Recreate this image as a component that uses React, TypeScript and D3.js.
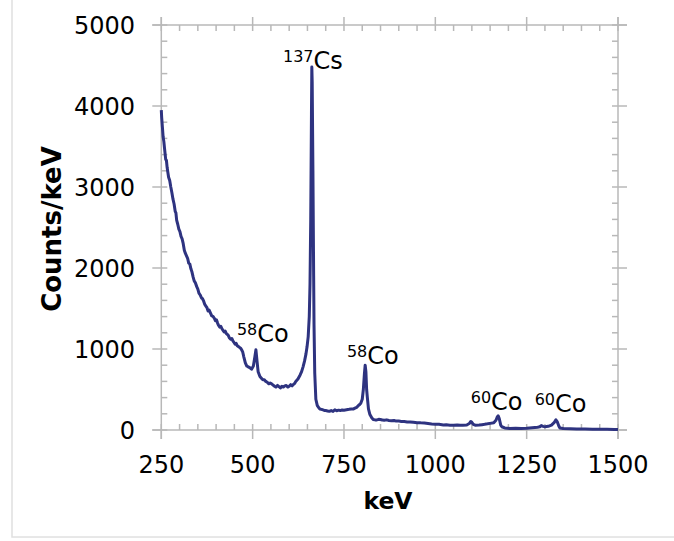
import React from 'react';
import * as d3 from 'd3';

// spectrum (keV, counts/keV)
const energy = [
  250, 251, 253, 255, 257, 259, 262, 264, 266, 268, 270, 273, 276, 279, 282, 285, 288, 290, 292, 295,
  298, 301, 304, 307, 310, 313, 316, 319, 322, 325, 328, 331, 334, 337, 340, 343, 347, 350, 353, 356,
  360, 363, 366, 369, 372, 375, 378, 381, 385, 388, 392, 395, 398, 401, 404, 407, 410, 413, 416, 419,
  422, 425, 428, 431, 433, 436, 440, 443, 446, 449, 452, 455, 458, 461, 464, 467, 470, 473, 476, 480,
  484, 488, 492, 497, 502, 506, 509, 512, 515, 520, 524, 528, 532, 536, 540, 544, 548, 552, 556, 560,
  564, 568, 572, 576, 580, 584, 588, 592, 596, 600, 604, 608, 611, 615, 618, 624, 630, 634, 638, 642,
  646, 649, 652, 655, 657, 659, 661, 662, 663, 665, 667, 668, 670, 673, 677, 681, 684, 688, 692, 696,
  700, 705, 710, 715, 720, 725, 730, 735, 740, 745, 750, 757, 764, 770, 775, 780, 785, 789, 793, 796,
  800, 803, 806, 808, 810, 812, 814, 817, 821, 826, 830, 835, 840, 845, 850, 855, 860, 867, 873, 880,
  887, 893, 900, 907, 915, 923, 931, 940, 950, 960, 970, 980, 990, 1000, 1010, 1022, 1030, 1040, 1050, 1060,
  1068, 1075, 1086, 1093, 1097, 1100, 1104, 1109, 1120, 1128, 1135, 1143, 1150, 1160, 1166, 1170, 1172, 1175, 1179, 1182,
  1190, 1204, 1220, 1235, 1250, 1265, 1280, 1286, 1290, 1295, 1300, 1309, 1318, 1325, 1330, 1334, 1338, 1341, 1350, 1370,
  1387, 1410, 1430, 1450, 1470, 1490, 1500,
];
const counts = [
  3950, 3860, 3740, 3620, 3560, 3470, 3340, 3330, 3240, 3180, 3120, 3080, 3000, 2930, 2850, 2790, 2700, 2680, 2590, 2540,
  2480, 2450, 2390, 2360, 2300, 2220, 2180, 2150, 2120, 2060, 2050, 1990, 1950, 1890, 1840, 1820, 1770, 1740, 1690, 1670,
  1630, 1620, 1590, 1550, 1530, 1510, 1470, 1480, 1440, 1410, 1400, 1380, 1350, 1360, 1320, 1290, 1270, 1280, 1250, 1230,
  1210, 1220, 1190, 1180, 1170, 1140, 1120, 1130, 1100, 1080, 1060, 1070, 1040, 1030, 1020, 1010, 990, 960, 900, 830,
  790, 780, 770, 750, 790, 900, 990, 850, 720, 660, 640, 620, 620, 600, 590, 570, 580, 570, 555, 540,
  530, 550, 535, 520, 540, 530, 545, 550, 530, 540, 560, 545, 560, 575, 600, 630, 680, 720, 780, 850,
  940, 1030, 1150, 1400, 1800, 2600, 3900, 4480, 4300, 3200, 1900, 1300, 700, 380, 300, 275, 260, 255, 250, 242,
  240, 235, 230, 240, 230, 250, 238, 245, 240, 248, 245, 250, 255, 260, 258, 270, 280, 300, 315, 330,
  380, 500, 700, 800, 720, 500, 400, 260, 190, 150, 130, 125, 125, 132, 130, 122, 120, 125, 118, 115,
  118, 110, 110, 106, 105, 100, 100, 95, 90, 88, 85, 80, 75, 72, 70, 62, 64, 60, 58, 62,
  60, 58, 62, 80, 105, 95, 70, 60, 62, 66, 70, 76, 82, 90, 120, 165, 175, 140, 60, 40,
  25, 20, 22, 20, 22, 28, 35, 40, 55, 45, 40, 45, 60, 90, 125, 100, 50, 25, 18, 15,
  12, 12, 10, 8, 8, 6, 5,
];

const xTicks = [250, 500, 750, 1000, 1250, 1500];
const yTicks = [0, 1000, 2000, 3000, 4000, 5000];

// peak labels: isotope mass, element, label anchor (keV, counts)
const labelMass = ['137', '58', '58', '60', '60'];
const labelElem = ['Cs', 'Co', 'Co', 'Co', 'Co'];
const labelKeV = [583, 457, 758, 1097, 1272];
const labelCount = [4457, 1086, 815, 247, 222];

export default function App() {
  const left = 161.3, right = 618, top = 25, bottom = 430;
  const x = d3.scaleLinear().domain([250, 1500]).range([left, right]);
  const y = d3.scaleLinear().domain([0, 5000]).range([bottom, top]);

  const pts = energy.map((e, i) => [e, counts[i]] as [number, number]);
  const line = d3.line<[number, number]>().x(d => x(d[0])).y(d => y(d[1]));

  const xMinor = d3.range(250, 1501, 50).filter(v => !xTicks.includes(v));
  const yMinor = d3.range(0, 5001, 200).filter(v => !yTicks.includes(v));
  const axisCol = '#b8b8b8';
  const font = '"DejaVu Sans", Verdana, sans-serif';

  return (
    <svg width={674} height={541} style={{ position: 'absolute', left: 0, top: 0 }} fontFamily={font}>
      <rect x={12} y={-2} width={700} height={539} fill="white" stroke="#e0e0e0" strokeWidth={1.5} />

      <g stroke={axisCol} strokeWidth={1.5}>
        <line x1={left - 9} x2={right + 9} y1={bottom} y2={bottom} />
        <line x1={left - 9} x2={right + 9} y1={top} y2={top} />
        <line x1={left} x2={left} y1={top - 8} y2={bottom + 9} />
        <line x1={right} x2={right} y1={top - 8} y2={bottom + 9} />
        {xTicks.map(t => (
          <g key={'xt' + t}>
            <line x1={x(t)} x2={x(t)} y1={bottom - 6} y2={bottom + 9} />
            <line x1={x(t)} x2={x(t)} y1={top - 8} y2={top + 6} />
          </g>
        ))}
        {xMinor.map(t => (
          <g key={'xm' + t}>
            <line x1={x(t)} x2={x(t)} y1={bottom - 6} y2={bottom} />
            <line x1={x(t)} x2={x(t)} y1={top} y2={top + 6} />
          </g>
        ))}
        {yTicks.map(t => (
          <g key={'yt' + t}>
            <line x1={left - 9} x2={left + 6} y1={y(t)} y2={y(t)} />
            <line x1={right - 6} x2={right + 9} y1={y(t)} y2={y(t)} />
          </g>
        ))}
        {yMinor.map(t => (
          <g key={'ym' + t}>
            <line x1={left} x2={left + 6} y1={y(t)} y2={y(t)} />
            <line x1={right - 6} x2={right} y1={y(t)} y2={y(t)} />
          </g>
        ))}
      </g>

      <path d={line(pts) ?? ''} fill="none" stroke="#2e3380" strokeWidth={3} strokeLinejoin="round" />

      <g fontSize={24} fill="#000">
        {xTicks.map(t => (
          <text key={'xl' + t} x={x(t)} y={473} textAnchor="middle">{t}</text>
        ))}
        {yTicks.map(t => (
          <text key={'yl' + t} x={135} y={y(t) + 9} textAnchor="end">{t}</text>
        ))}
      </g>

      <text x={388} y={509} textAnchor="middle" fontSize={23.5} fontWeight="bold">keV</text>
      <text transform={`translate(61,229) rotate(-90)`} textAnchor="middle" fontSize={26} fontWeight="bold">Counts/keV</text>

      {labelMass.map((m, i) => (
        <text key={'lab' + i} x={x(labelKeV[i])} y={y(labelCount[i])} fontSize={24}>
          <tspan fontSize={16} dy={-7}>{m}</tspan>
          <tspan dy={7}>{labelElem[i]}</tspan>
        </text>
      ))}
    </svg>
  );
}
